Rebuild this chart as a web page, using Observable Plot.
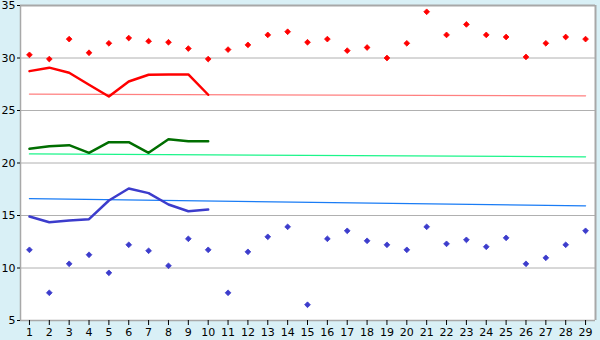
<!DOCTYPE html>
<html><head><meta charset="utf-8">
<script src="https://cdn.jsdelivr.net/npm/d3@7"></script>
<script src="https://cdn.jsdelivr.net/npm/@observablehq/plot@0.6"></script>
<style>
html,body{margin:0;padding:0;background:#d9f0f6;}
svg{display:block;}
</style></head><body>
<div id="chart"></div>
<script>
const days = d3.range(1, 30);
const highPts = [30.3,29.9,31.8,30.5,31.4,31.9,31.6,31.5,30.9,29.9,30.8,31.25,32.2,32.5,31.5,31.8,30.7,31.0,30.0,31.4,34.4,32.2,33.2,32.2,32.0,30.1,31.4,32.0,31.8];
const lowPts = [11.73,7.64,10.4,11.26,9.54,12.21,11.64,10.21,12.78,11.73,7.64,11.54,12.97,13.92,6.5,12.78,13.54,12.59,12.21,11.73,13.92,12.3,12.68,12.02,12.87,10.4,10.97,12.21,13.54];
const lineDays = d3.range(1, 11);
const redLine = [28.75,29.08,28.6,27.45,26.33,27.76,28.4,28.43,28.43,26.5];
const greenLine = [21.35,21.6,21.7,20.97,21.98,21.98,20.97,22.27,22.08,22.08];
const blueLine = [14.9,14.36,14.52,14.65,16.43,17.57,17.13,16.05,15.41,15.57];
const trendDays = [1, 29];
const redTrend = [26.56, 26.4];
const greenTrend = [20.86, 20.59];
const blueTrend = [16.6, 15.92];
const yTicks = [5,10,15,20,25,30,35];
const gridTicks = [10,15,20,25,30];

const pts = (xs, ys) => xs.map((d, i) => ({day: d, v: ys[i]}));

const chart = Plot.plot({
  width: 600, height: 340,
  marginLeft: 20, marginRight: 5, marginTop: 5, marginBottom: 20,
  style: {fontFamily: "DejaVu Sans", fontSize: "11px", color: "#000", background: "transparent"},
  x: {domain: [0.55, 29.5], label: null},
  y: {domain: [5, 35], label: null},
  marks: [
    Plot.frame({fill: "white", stroke: "none"}),
    Plot.ruleY(gridTicks, {stroke: "#b0b0b0", strokeWidth: 1}),
    Plot.line(pts(trendDays, redTrend), {x: "day", y: "v", stroke: "#ff8080", strokeWidth: 1.3}),
    Plot.line(pts(trendDays, greenTrend), {x: "day", y: "v", stroke: "#1cf58a", strokeWidth: 1.3}),
    Plot.line(pts(trendDays, blueTrend), {x: "day", y: "v", stroke: "#1a7cf5", strokeWidth: 1.3}),
    Plot.line(pts(lineDays, redLine), {x: "day", y: "v", stroke: "#ff0000", strokeWidth: 2.5}),
    Plot.line(pts(lineDays, greenLine), {x: "day", y: "v", stroke: "#006e00", strokeWidth: 2.5}),
    Plot.line(pts(lineDays, blueLine), {x: "day", y: "v", stroke: "#3c3ccc", strokeWidth: 2.5}),
    Plot.dot(pts(days, highPts), {x: "day", y: "v", symbol: "diamond2", r: 2.6, fill: "#ff0000", stroke: "#ff0000", strokeWidth: 0.8}),
    Plot.dot(pts(days, lowPts), {x: "day", y: "v", symbol: "diamond2", r: 2.6, fill: "#3c3ccc", stroke: "#3c3ccc", strokeWidth: 0.8}),
    Plot.ruleY([35], {stroke: "#a8a8a8", strokeWidth: 2}),
    Plot.ruleX([29.5], {stroke: "#a8a8a8", strokeWidth: 2}),
    Plot.ruleY([5], {stroke: "#a8a8a8", strokeWidth: 1.5}),
    Plot.ruleX([0.55], {stroke: "#a8a8a8", strokeWidth: 1.5}),
    Plot.axisX({ticks: days, tickFormat: d => d, tickSize: 5, tickPadding: 3, stroke: "#000"}),
    Plot.axisY({ticks: yTicks, tickSize: 3, tickPadding: 2})
  ]
});
document.getElementById("chart").appendChild(chart);
</script>
</body></html>
